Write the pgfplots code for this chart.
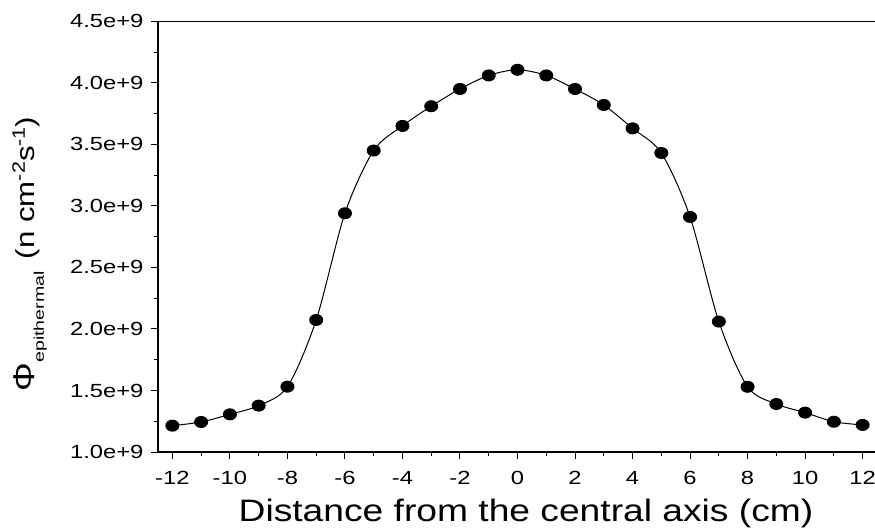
\documentclass[border=0pt]{standalone}
\usepackage{fontspec}
\setmainfont{Liberation Sans}
\newfontfamily\tickfont{Liberation Sans}[FakeStretch=1.25]
\newfontfamily\labfont{Liberation Sans}[FakeStretch=1.2]
\newfontfamily\subfont{Liberation Sans}[FakeStretch=1.4]
\usepackage{pgfplots}
\pgfplotsset{compat=1.18}
\begin{document}
\begin{tikzpicture}
\begin{axis}[
  at={(0pt,0pt)}, anchor=south west,
  scale only axis,
  width=719pt, height=430.7pt,
  xmin=-12.5, xmax=12.5,
  ymin=1.0e9, ymax=4.5e9,
  xtick={-12,-10,...,12},
  minor x tick num=1,
  ytick={1.0e9,1.5e9,2.0e9,2.5e9,3.0e9,3.5e9,4.0e9,4.5e9},
  yticklabels={1.0e+9,1.5e+9,2.0e+9,2.5e+9,3.0e+9,3.5e+9,4.0e+9,4.5e+9},
  scaled y ticks=false,
  minor y tick num=1,
  tick align=outside,
  xtick pos=bottom, ytick pos=left,
  major tick length=7pt, minor tick length=4pt,
  every tick/.style={black, line width=1pt},
  axis line style={black, line width=1.6pt},
  /pgf/number format/assume math mode=true,
  tick label style={font=\tickfont\fontsize{19}{19}\selectfont},
  xticklabel style={yshift=-9pt},
  yticklabel style={xshift=-4pt},
]
\addplot[black, line width=1pt, smooth, mark=*, mark size=5.5pt,
  mark options={xscale=1.18, fill=black}] coordinates {
(-12,1.214e9) (-11,1.244e9) (-10,1.306e9) (-9,1.377e9) (-8,1.531e9)
(-7,2.073e9) (-6,2.94e9) (-5,3.45e9) (-4,3.65e9) (-3,3.81e9)
(-2,3.95e9) (-1,4.06e9) (0,4.106e9) (1,4.06e9) (2,3.95e9)
(3,3.82e9) (4,3.63e9) (5,3.43e9) (6,2.91e9) (7,2.06e9)
(8,1.53e9) (9,1.39e9) (10,1.32e9) (11,1.246e9) (12,1.22e9)
};
\end{axis}
\node[anchor=base] at (368pt,-69.5pt) {\labfont\fontsize{31}{31}\selectfont Distance from the central axis (cm)};
\node[rotate=90, anchor=base] at (-123pt,198pt) {\labfont{\fontsize{30}{30}\selectfont Φ}\raisebox{-9pt}{\subfont\fontsize{14}{14}\selectfont epithermal}\hspace{12pt}{\fontsize{26}{26}\selectfont (n cm\raisebox{10pt}{\fontsize{18}{18}\selectfont -2}s\raisebox{10pt}{\fontsize{18}{18}\selectfont -1})}};
\pgfresetboundingbox
\path (-158pt,-76pt) rectangle (717pt,452pt);
\end{tikzpicture}
\end{document}
